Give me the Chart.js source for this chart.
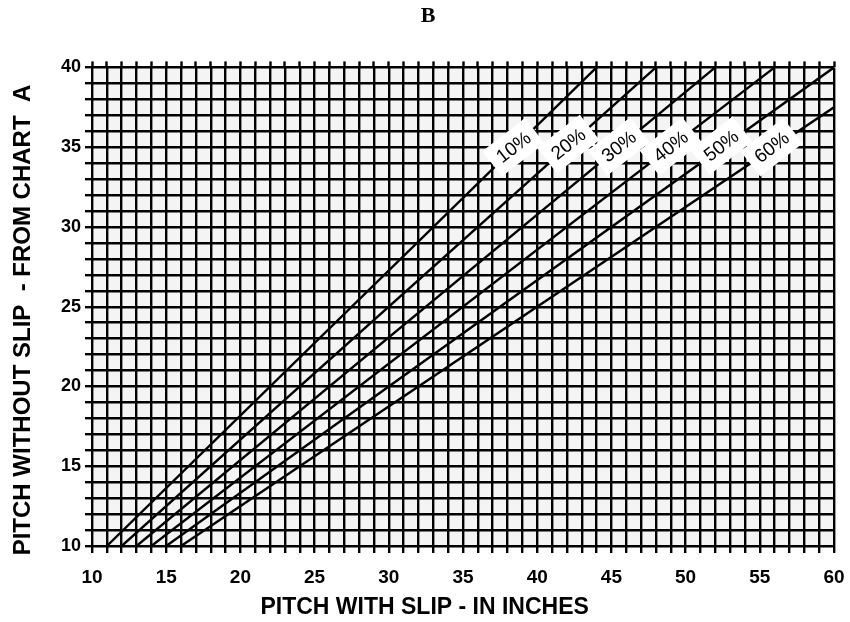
<!DOCTYPE html>
<html>
<head>
<meta charset="utf-8">
<script src="https://cdn.jsdelivr.net/npm/chart.js@4.4.0/dist/chart.umd.min.js"></script>
<style>
    html, body { margin: 0; padding: 0; background: #fff; }
    #wrap { width: 850px; height: 622px; }
</style>
</head>
<body>
<div id="wrap"><canvas id="slip-chart"></canvas></div>
<script>
// 滑移曲线数据
const slipLabels = ['10%', '20%', '30%', '40%', '50%', '60%'];
const withSlipStart = [11, 12, 13, 14, 15, 16];
const withSlipEnd = [44, 48, 52, 56, 60, 60];
const withoutSlipStart = [10, 10, 10, 10, 10, 10];
const withoutSlipEnd = [40, 40, 40, 40, 40, 37.5];

// 标签位置 (数据坐标)
const labelX = [38.4, 42.1, 45.5, 49.0, 52.4, 55.8];
const labelY = [35.0, 35.2, 35.05, 35.05, 35.1, 35.0];

const xTickLabels = [10, 15, 20, 25, 30, 35, 40, 45, 50, 55, 60];
const yTickLabels = [10, 15, 20, 25, 30, 35, 40];

const datasets = slipLabels.map((name, i) => ({
    label: name,
    data: [
        { x: withSlipStart[i], y: withoutSlipStart[i] },
        { x: withSlipEnd[i], y: withoutSlipEnd[i] }
    ],
    showLine: true,
    borderColor: '#000',
    borderWidth: 2.4,
    pointRadius: 0,
    fill: false
}));

// 绘图区背景
const plotBackground = {
    id: 'plotBackground',
    beforeDraw(chart) {
        const { ctx, chartArea } = chart;
        ctx.save();
        ctx.fillStyle = '#f4f4f4';
        ctx.fillRect(chartArea.left, chartArea.top, chartArea.right - chartArea.left, chartArea.bottom - chartArea.top);
        ctx.restore();
    }
};

// 斜线上的百分比标签
const slipTags = {
    id: 'slipTags',
    afterDatasetsDraw(chart) {
        const { ctx, scales } = chart;
        ctx.save();
        ctx.font = '19px "Liberation Sans", Arial, sans-serif';
        ctx.textAlign = 'center';
        ctx.textBaseline = 'middle';
        slipLabels.forEach((text, i) => {
            const px = scales.x.getPixelForValue(labelX[i]);
            const py = scales.y.getPixelForValue(labelY[i]);
            const w = ctx.measureText(text).width + 16;
            ctx.save();
            ctx.translate(px, py);
            ctx.rotate(-38 * Math.PI / 180);
            ctx.fillStyle = '#fff';
            ctx.fillRect(-w / 2, -16, w, 32);
            ctx.fillStyle = '#000';
            ctx.fillText(text, 0, 1);
            ctx.restore();
        });
        ctx.restore();
    }
};

const tickFontX = { family: '"Liberation Sans", Arial, sans-serif', size: 19, weight: 'bold' };
const tickFontY = { family: '"Liberation Sans", Arial, sans-serif', size: 18, weight: 'bold' };
const titleFont = { family: '"Liberation Sans", Arial, sans-serif', size: 23, weight: 'bold' };
const titleFontY = { family: '"Liberation Sans", Arial, sans-serif', size: 24, weight: 'bold' };

new Chart(document.getElementById('slip-chart'), {
    type: 'scatter',
    data: { datasets },
    plugins: [plotBackground, slipTags],
    options: {
        responsive: true,
        maintainAspectRatio: false,
        animation: false,
        layout: { padding: { left: 22, right: 16, top: 0, bottom: 0 } },
        plugins: {
            legend: { display: false },
            tooltip: { enabled: false },
            title: {
                display: true,
                text: 'B',
                color: '#000',
                font: { family: '"Liberation Serif", "Times New Roman", serif', size: 22, weight: 'bold' },
                padding: { top: 3, bottom: 32 }
            }
        },
        scales: {
            x: {
                type: 'linear',
                min: 10,
                max: 60,
                afterFit(axis) {
                    axis.height = 76;
                    axis.paddingRight = 0;
                    axis.paddingLeft = 0;
                },
                grid: { color: '#000', lineWidth: 2.4, drawTicks: true, tickLength: 7, tickColor: '#000', tickWidth: 2.4 },
                border: { display: false },
                ticks: {
                    stepSize: 1,
                    autoSkip: false,
                    maxRotation: 0,
                    color: '#000',
                    font: tickFontX,
                    padding: 13,
                    callback: v => xTickLabels.includes(v) ? v : ''
                },
                title: {
                    display: true,
                    // 末尾空格让标题略偏左, 与原图一致
                    text: 'PITCH WITH SLIP - IN INCHES            ',
                    color: '#000',
                    font: titleFont,
                    padding: { top: 4, bottom: 1 }
                }
            },
            x2: {
                type: 'linear',
                position: 'top',
                min: 10,
                max: 60,
                afterFit(axis) {
                    axis.height = 6;
                    axis.paddingRight = 0;
                    axis.paddingLeft = 0;
                },
                grid: { drawOnChartArea: false, drawTicks: true, tickLength: 6, tickColor: '#000', tickWidth: 2.4 },
                border: { display: false },
                ticks: { stepSize: 1, autoSkip: false, display: false }
            },
            y: {
                type: 'linear',
                min: 10,
                max: 40,
                afterFit(axis) { axis.width = 70; },
                grid: { color: '#000', lineWidth: 2.4, drawTicks: true, tickLength: 7, tickColor: '#000', tickWidth: 2.4 },
                border: { display: false },
                ticks: {
                    stepSize: 1,
                    autoSkip: false,
                    color: '#000',
                    font: tickFontY,
                    padding: 4,
                    callback: v => yTickLabels.includes(v) ? v : ''
                },
                title: {
                    display: true,
                    text: 'PITCH WITHOUT SLIP  - FROM CHART  A    ',
                    color: '#000',
                    font: titleFontY,
                    padding: { top: -13 }
                }
            }
        }
    }
});
</script>
</body>
</html>
